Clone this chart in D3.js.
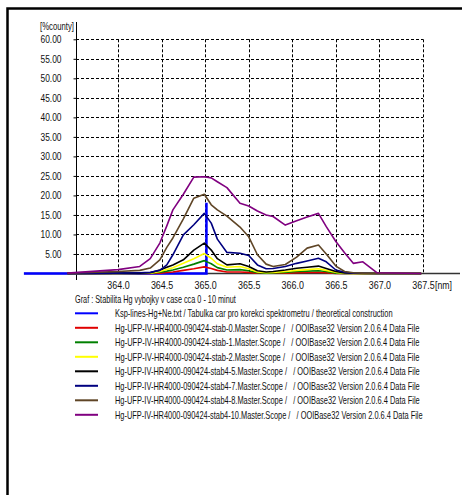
<!DOCTYPE html>
<html>
<head>
<meta charset="utf-8">
<script src="https://cdn.jsdelivr.net/npm/d3@7"></script>
<style>
  body { margin: 0; background: #fff; }
  text { font-family: "Liberation Sans Narrow", "Arial Narrow", "Liberation Sans", Arial, sans-serif; fill: #111; white-space: pre; }
</style>
</head>
<body>
<svg id="chart" width="462" height="495"></svg>
<script>
// wavelength grid of the spectra [nm]
const wl = [363.42, 364.00, 364.25, 364.37, 364.48, 364.56, 364.63, 364.75, 364.87, 364.99,
  365.07, 365.14, 365.25, 365.40, 365.50, 365.60, 365.70, 365.78, 365.92, 366.05,
  366.17, 366.30, 366.39, 366.50, 366.60, 366.70, 366.81, 366.97, 367.48];

const stab0  = [0, 0, 0, 0, 0.1, 0.25, 0.4, 0.8, 1.2, 1.7, 1.3, 0.8, 0.4, 0.4, 0.3, 0.1, 0.05, 0.05, 0.1, 0.2, 0.25, 0.3, 0.2, 0, 0, 0, 0, 0, 0];
const stab1  = [0, 0, 0, 0.05, 0.3, 0.6, 0.9, 1.6, 2.4, 3.3, 2.5, 1.5, 0.9, 1.0, 0.7, 0.2, 0.1, 0.15, 0.3, 0.5, 0.6, 0.7, 0.5, 0.1, 0, 0, 0, 0, 0];
const stab2  = [0, 0, 0.05, 0.1, 0.5, 1.0, 1.5, 2.6, 3.8, 5.1, 3.9, 2.5, 1.6, 1.8, 1.2, 0.4, 0.2, 0.3, 0.5, 0.8, 1.0, 1.2, 0.8, 0.3, 0.1, 0, 0, 0, 0];
const stab45 = [0, 0.05, 0.1, 0.2, 0.9, 1.6, 2.2, 3.5, 6.0, 7.8, 6.0, 3.8, 2.2, 2.5, 1.8, 0.7, 0.4, 0.5, 0.9, 1.35, 1.6, 1.9, 1.3, 0.5, 0.15, 0.05, 0, 0, 0];
const stab47 = [0, 0.1, 0.2, 0.3, 0.8, 2.2, 4.8, 9.9, 12.5, 15.4, 12.9, 8.8, 5.4, 5.2, 4.6, 2.2, 1.2, 1.3, 1.8, 2.6, 3.2, 3.9, 3.0, 0.9, 0.3, 0.1, 0.05, 0, 0];
const stab48 = [0.1, 0.5, 0.8, 1.4, 3.5, 6.7, 9.1, 14.0, 19.3, 20.3, 17.6, 16.3, 14.7, 11.9, 9.4, 4.8, 2.4, 1.8, 2.3, 4.2, 6.5, 7.3, 5.0, 1.9, 0.5, 0.2, 0.1, 0.05, 0];
const stab410 = [0.1, 1.0, 1.8, 3.8, 7.8, 12.2, 16.3, 20.3, 24.7, 24.8, 24.5, 23.5, 22.0, 18.0, 17.3, 16.0, 15.0, 14.6, 12.4, 13.5, 14.5, 15.4, 12.0, 8.2, 5.3, 2.6, 3.0, 0.2, 0];

// theoretical line list (Hg 365.015 nm)
const kspWl  = [362.92, 365.015, 365.015, 365.015];
const kspVal = [0, 0, 18.1, 0];

const xTicks = [364.0, 364.5, 365.0, 365.5, 366.0, 366.5, 367.0, 367.5];
const yTicks = [5, 10, 15, 20, 25, 30, 35, 40, 45, 50, 55, 60];

const legendNames = [
  "Ksp-lines-Hg+Ne.txt / Tabulka car pro korekci spektrometru / theoretical construction",
  "Hg-UFP-IV-HR4000-090424-stab-0.Master.Scope /   / OOIBase32 Version 2.0.6.4 Data File",
  "Hg-UFP-IV-HR4000-090424-stab-1.Master.Scope /   / OOIBase32 Version 2.0.6.4 Data File",
  "Hg-UFP-IV-HR4000-090424-stab-2.Master.Scope /   / OOIBase32 Version 2.0.6.4 Data File",
  "Hg-UFP-IV-HR4000-090424-stab4-5.Master.Scope /   / OOIBase32 Version 2.0.6.4 Data File",
  "Hg-UFP-IV-HR4000-090424-stab4-7.Master.Scope /   / OOIBase32 Version 2.0.6.4 Data File",
  "Hg-UFP-IV-HR4000-090424-stab4-8.Master.Scope /   / OOIBase32 Version 2.0.6.4 Data File",
  "Hg-UFP-IV-HR4000-090424-stab4-10.Master.Scope /   / OOIBase32 Version 2.0.6.4 Data File"
];
const colors = ["#0000ff", "#e00000", "#008000", "#ffff00", "#000000", "#000080", "#5f4526", "#800080"];
const spectra = [stab0, stab1, stab2, stab45, stab47, stab48, stab410];

const svg = d3.select("#chart");

// squeeze a left-anchored text to a given width (the original uses a very narrow font)
function squeeze(t, x0, y0, w) {
  const s = w / t.node().getComputedTextLength();
  t.attr("x", 0).attr("y", 0).attr("transform", `translate(${x0},${y0}) scale(${s},1)`);
}

// outer frame (only left and top edges inside the picture)
svg.append("rect")
  .attr("x", 7.5).attr("y", 8.5).attr("width", 600).attr("height", 600)
  .attr("fill", "none").attr("stroke", "#000").attr("stroke-width", 2.5);

const x = d3.scaleLinear().domain([364, 367.5]).range([118, 423]);
const y = d3.scaleLinear().domain([0, 60]).range([273.5, 39.3]);

// dashed grid
svg.append("g").selectAll("line").data(yTicks).join("line")
  .attr("x1", 76).attr("x2", x(367.5))
  .attr("y1", d => Math.round(y(d)) + 0.5).attr("y2", d => Math.round(y(d)) + 0.5)
  .attr("stroke", "#000").attr("stroke-dasharray", "3,2");
svg.append("g").selectAll("line").data(xTicks).join("line")
  .attr("x1", d => Math.round(x(d)) + 0.5).attr("x2", d => Math.round(x(d)) + 0.5)
  .attr("y1", y(60)).attr("y2", y(0))
  .attr("stroke", "#000").attr("stroke-dasharray", "3,2");

// axes
const yAxis = svg.append("g")
  .attr("transform", "translate(76.5,0)")
  .call(d3.axisLeft(y).tickValues(yTicks).tickFormat(d3.format(".2f")).tickSize(3).tickPadding(12));
yAxis.select(".domain").remove();
yAxis.selectAll("text").attr("font-size", 10.5).style("font-family", null)
  .attr("transform", "translate(-15,0) scale(0.8,1) translate(15,0)");

const xAxis = svg.append("g")
  .attr("transform", `translate(0,${y(0)})`)
  .call(d3.axisBottom(x).tickValues(xTicks).tickFormat(d3.format(".1f")).tickSize(0).tickPadding(8.5));
xAxis.select(".domain").remove();
xAxis.selectAll("text").attr("font-size", 10.5).style("font-family", null)
  .attr("transform", "scale(0.85,1)");

svg.append("line")
  .attr("x1", 76.5).attr("x2", 76.5).attr("y1", 22).attr("y2", 280)
  .attr("stroke", "#000");
svg.append("line")
  .attr("x1", 24).attr("x2", 460).attr("y1", y(0)).attr("y2", y(0))
  .attr("stroke", "#333").attr("stroke-width", 1.5);

squeeze(svg.append("text").attr("font-size", 10.5).text("[%county]"), 40, 30, 34);
squeeze(svg.append("text").attr("font-size", 10.5).text("[nm]"), 435, y(0) + 15.6, 17);

// series
const line = d3.line().x((d, i) => x(wl[i])).y(d => y(d));
svg.append("path")
  .datum(kspVal)
  .attr("fill", "none").attr("stroke", colors[0]).attr("stroke-width", 2.5)
  .attr("d", d3.line().x((d, i) => x(kspWl[i])).y(d => y(d)));
spectra.forEach((s, k) => {
  svg.append("path")
    .datum(s)
    .attr("fill", "none")
    .attr("stroke", colors[k + 1])
    .attr("stroke-width", 1.6)
    .attr("stroke-linejoin", "round")
    .attr("d", line);
});

// caption and legend
squeeze(svg.append("text").attr("font-size", 10.5)
  .text("Graf : Stabilita Hg vybojky v case cca 0 - 10 minut"), 75, 303, 161);

const legend = svg.append("g");
legendNames.forEach((name, i) => {
  const cy = 313.3 + i * 14.5;
  legend.append("line")
    .attr("x1", 75).attr("x2", 98).attr("y1", cy).attr("y2", cy)
    .attr("stroke", colors[i]).attr("stroke-width", 2);
  squeeze(legend.append("text").attr("font-size", 10.5).text(name),
    115, cy + 3.8, i === 0 ? 278 : (i === 7 ? 308 : 305));
});
</script>
</body>
</html>
